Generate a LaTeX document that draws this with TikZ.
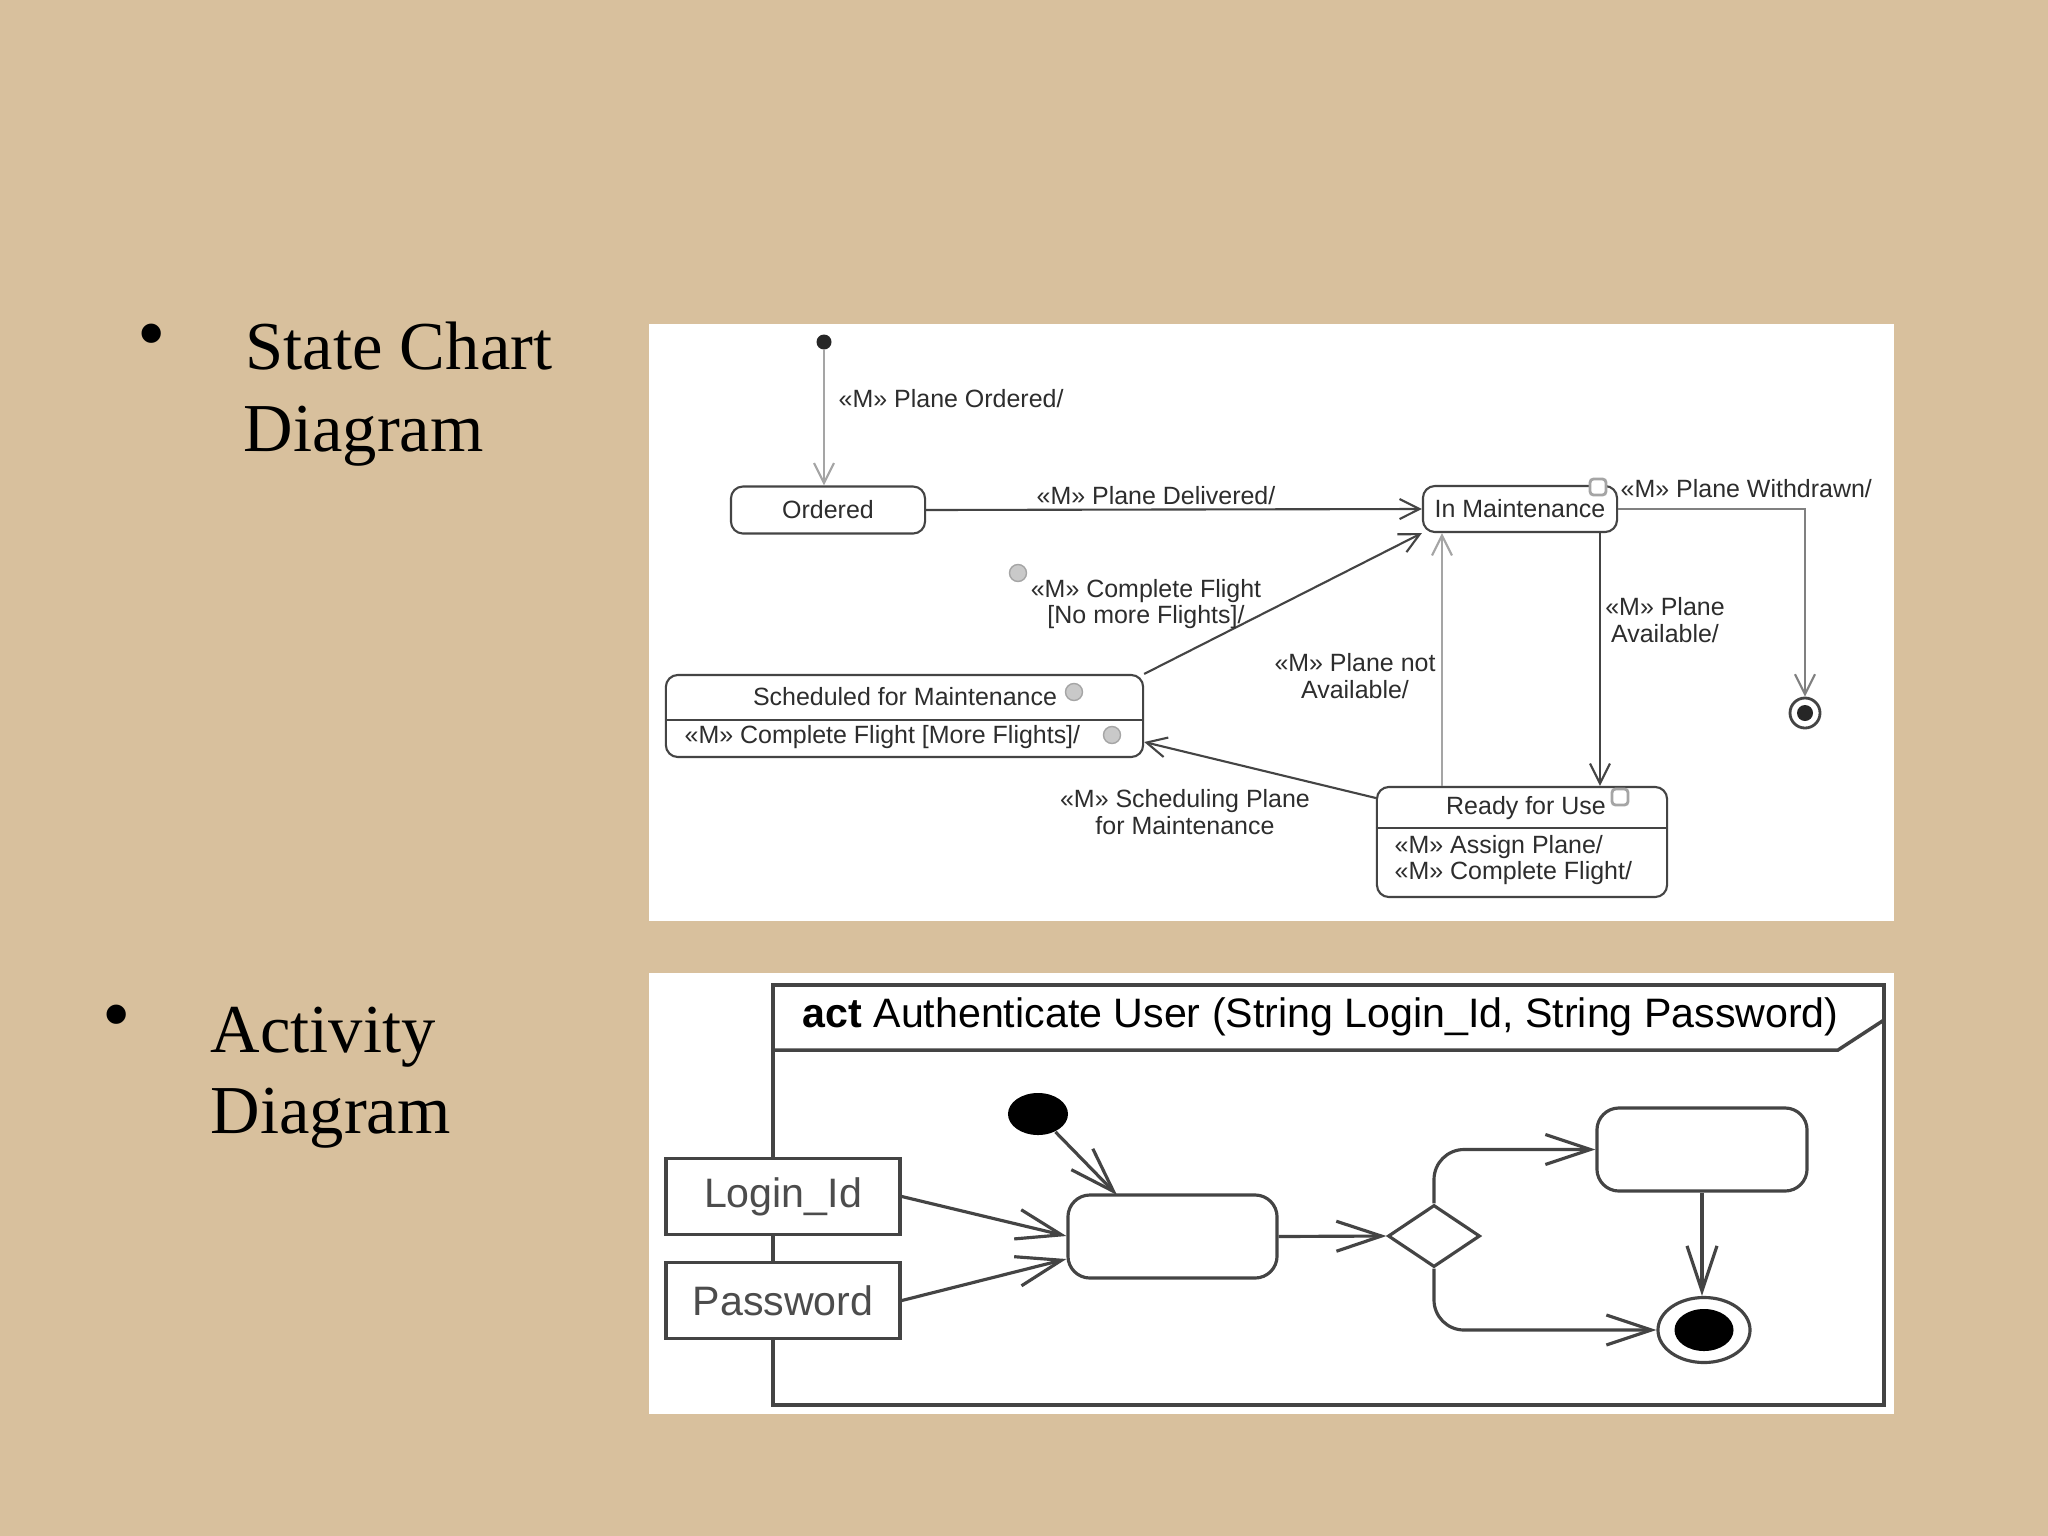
\documentclass[tikz,border=0pt]{standalone}
\usepackage{fontspec}
\setmainfont{Liberation Serif}
\newfontfamily\umlfont{Liberation Sans}
\usetikzlibrary{arrows.meta,shapes.geometric}
\definecolor{slidetan}{RGB}{216,192,157}
\definecolor{umlline}{RGB}{68,68,68}
\definecolor{umlgrey}{RGB}{165,165,165}
\definecolor{umltext}{RGB}{45,45,45}

\begin{document}
\begin{tikzpicture}[x=0.01cm,y=-0.01cm,
    stfont/.style={font=\umlfont\fontsize{7.1}{7.5}\selectfont, text=umltext},
    stbox/.style={draw=umlline, line width=0.6pt, rounded corners=0.12cm, fill=white, inner sep=0pt},
    trans/.style={draw=umlline, line width=0.6pt, -{Straight Barb[length=2mm,width=2mm]}},
    lbl/.style={stfont, inner sep=0pt, align=center},
    badge/.style={circle, fill=umlgrey!60, draw=umlgrey, minimum size=0.17cm, inner sep=0pt},
    sqbadge/.style={rectangle, rounded corners=1pt, draw=umlgrey, line width=0.8pt, fill=white, minimum size=0.16cm, inner sep=0pt},
    actfont/.style={font=\umlfont\fontsize{11.7}{14}\selectfont},
    actbox/.style={draw=umlline, line width=0.9pt, rounded corners=0.22cm, fill=white, minimum width=2.09cm, minimum height=0.83cm},
    flow/.style={draw=umlline, line width=0.9pt, -{Straight Barb[length=4.5mm,width=3mm]}},
    pin/.style={draw=umlline, line width=1pt, fill=white, minimum width=2.34cm, minimum height=0.76cm, actfont, text=black!70},
    bigtext/.style={font=\fontsize{19.5}{23.3}\selectfont, anchor=base west, inner sep=0pt},
    bulletmark/.style={font=\fontsize{23}{23}\selectfont, inner sep=0pt}
  ]
  \fill[slidetan] (0,0) rectangle (2048,1536);
  \useasboundingbox (0,0) rectangle (2048,1536);

  \node[bulletmark] (bulletsc) at (152,342) {•};
  \node[bigtext] (sctitle) at (245,369) {State Chart};
  \node[bigtext] (sctitleb) at (243,451) {Diagram};
  \node[bulletmark] (bulletact) at (117,1023) {•};
  \node[bigtext] (acttitle) at (210,1052) {Activity};
  \node[bigtext] (acttitleb) at (210,1133) {Diagram};

  \begin{scope}
    \fill[white] (649,324) rectangle (1894,921);
    \node[circle, fill=black!85, minimum size=0.15cm, inner sep=0pt] (scinit) at (824,342) {};
    \node[stbox, stfont, minimum width=1.94cm, minimum height=0.47cm] (ordered) at (828,510) {Ordered};
    \node[stbox, stfont, minimum width=1.94cm, minimum height=0.46cm] (inmaint) at (1520,509) {In Maintenance};
    \node[sqbadge] (inmaintbadge) at (1598,487) {};
    \node[stbox, minimum width=4.77cm, minimum height=0.82cm] (sched) at (904.5,716) {};
    \coordinate (schedsplit) at (904.5,720);
    \draw[umlline, line width=0.6pt] (sched.west |- schedsplit) -- (sched.east |- schedsplit);
    \node[lbl] (schedname) at (905,697) {Scheduled for Maintenance};
    \node[lbl, anchor=west] (schedact) at (684,737) {«M» Complete Flight [More Flights]/};
    \node[badge] (schedbadge) at (1074,692) {};
    \node[badge] (schedactbadge) at (1112,735) {};
    \node[stbox, minimum width=2.90cm, minimum height=1.10cm] (ready) at (1522,842) {};
    \coordinate (readysplit) at (1522,828);
    \draw[umlline, line width=0.6pt] (ready.west |- readysplit) -- (ready.east |- readysplit);
    \node[lbl] (readyname) at (1526,808) {Ready for Use};
    \node[lbl, anchor=west, align=left] (readyact) at (1394,860) {«M» Assign Plane/\\«M» Complete Flight/};
    \node[sqbadge] (readybadge) at (1620,797) {};
    \node[circle, draw=umlline, line width=0.8pt, fill=white, minimum size=0.3cm, inner sep=0pt] (scfinal) at (1805,713) {};
    \node[circle, fill=black!85, minimum size=0.16cm, inner sep=0pt] (scfinaldot) at (1805,713) {};

    \draw[trans, draw=umlgrey] (scinit) -- (scinit |- ordered.north);
    \node[lbl, anchor=west] (lordered) at (838,399) {«M» Plane Ordered/};
    \draw[trans] (ordered.east) -- (inmaint.west);
    \node[lbl] (ldelivered) at (1156,496) {«M» Plane Delivered/};
    \draw[trans] (sched.north east) -- (inmaint.south west);
    \node[lbl] (lnomore) at (1146,604) {«M» Complete Flight\\{[}No more Flights{]}/};
    \node[badge] (nomorebadge) at (1018,573) {};
    \coordinate (upline) at (1442,650);
    \draw[trans, draw=umlgrey] (ready.north -| upline) -- (inmaint.south -| upline);
    \node[lbl] (lnotavail) at (1355,676) {«M» Plane not\\Available/};
    \coordinate (downline) at (1600,650);
    \draw[trans] (inmaint.south -| downline) -- (ready.north -| downline);
    \node[lbl] (lavail) at (1665,620) {«M» Plane\\Available/};
    \draw[trans, draw=gray] (inmaint.east) -| (scfinal.north);
    \node[lbl, anchor=west] (lwithdrawn) at (1620,489) {«M» Plane Withdrawn/};
    \coordinate (readyport) at (0,798);
    \coordinate (schedport) at (0,742);
    \draw[trans] (ready.west |- readyport) -- (sched.east |- schedport);
    \node[lbl] (lschedule) at (1185,812) {«M» Scheduling Plane\\for Maintenance};
  \end{scope}

  \begin{scope}
    \fill[white] (649,973) rectangle (1894,1414);
    \draw[umlline, line width=1pt] (773,985) rectangle (1884,1405);
    \draw[umlline, line width=1pt] (773,1050) -- (1838,1050) -- (1884,1020);
    \node[actfont, anchor=west, inner sep=0pt] (acthead) at (802,1017) {\textbf{act} Authenticate User (String Login\_Id, String Password)};
    \node[pin] (loginid) at (783,1196.5) {Login\_Id};
    \node[pin] (password) at (783,1300.5) {Password};
    \node[ellipse, fill=black, minimum width=0.6cm, minimum height=0.42cm, inner sep=0pt] (actinit) at (1038,1114) {};
    \node[actbox] (checkid) at (1172.5,1236.5) {};
    \node[diamond, draw=umlline, line width=0.9pt, fill=white, minimum width=0.92cm, minimum height=0.62cm, inner sep=0pt] (decide) at (1434,1236) {};
    \node[actbox, minimum width=2.10cm] (grant) at (1702,1149.5) {};
    \node[ellipse, draw=umlline, line width=0.9pt, fill=white, minimum width=0.92cm, minimum height=0.65cm, inner sep=0pt] (actfinal) at (1704,1330) {};
    \node[ellipse, fill=black, minimum width=0.59cm, minimum height=0.42cm, inner sep=0pt] (actfinaldot) at (1704,1330) {};

    \coordinate (checkidtop) at (1117,1195);
    \coordinate (loginport) at (0,1236);
    \coordinate (passport) at (0,1259);
    \draw[flow] (actinit) -- (checkidtop);
    \draw[flow] (loginid.east) -- (checkid.west |- loginport);
    \draw[flow] (password.east) -- (checkid.west |- passport);
    \draw[flow] (checkid.east) -- (decide.west);
    \draw[flow, rounded corners=0.3cm] (decide.north) |- (grant.west);
    \draw[flow] (grant.south) -- (grant.south |- actfinal.north);
    \draw[flow, rounded corners=0.3cm] (decide.south) |- (actfinal.west);
  \end{scope}
\end{tikzpicture}
\end{document}
